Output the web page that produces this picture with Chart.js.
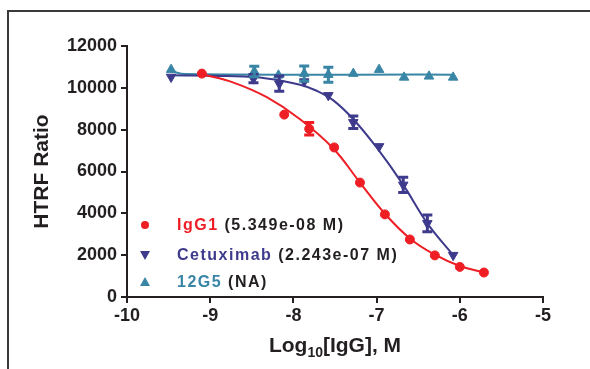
<!DOCTYPE html>
<html>
<head>
<meta charset="utf-8">
<script src="https://cdn.jsdelivr.net/npm/chart.js@4/dist/chart.umd.min.js"></script>
<style>
  html, body { margin: 0; padding: 0; background: #fff; }
  #frame { position: absolute; left: 7px; top: 10px; width: 620px; height: 400px;
           border-left: 2px solid #3a3a3a; border-top: 2px solid #3a3a3a; }
  canvas { position: absolute; left: 0; top: 0; }
</style>
</head>
<body>
<div id="frame"></div>
<canvas id="chart" width="590" height="369"></canvas>
<script>
// log10 concentration (M) and HTRF ratio
const igg1X = [-9.10, -8.11, -7.81, -7.51, -7.20, -6.90, -6.60, -6.30, -6.00, -5.71];
const igg1Y = [10680, 8720, 8040, 7150, 5470, 3950, 2750, 1990, 1440, 1170];
const igg1Err = [0, 0, 300, 0, 0, 0, 0, 0, 0, 0];

const cetuxX = [-9.47, -8.48, -8.17, -7.87, -7.58, -7.28, -6.97, -6.68, -6.39, -6.08];
const cetuxY = [10520, 10440, 10200, 10300, 9640, 8350, 7200, 5360, 3520, 2000];
const cetuxErr = [0, 200, 360, 0, 0, 300, 0, 360, 400, 0];

const g12X = [-9.47, -8.47, -8.18, -7.87, -7.58, -7.28, -6.97, -6.67, -6.37, -6.08];
const g12Y = [10870, 10780, 10600, 10680, 10630, 10680, 10870, 10500, 10550, 10500];
const g12Err = [0, 250, 0, 360, 360, 0, 0, 0, 0, 0];

// fitted curves
const igg1FitX = [-9.10, -8.72, -8.32, -7.92, -7.52, -7.20, -6.90, -6.60, -6.30, -6.00, -5.71];
const igg1FitY = [10650, 10250, 9550, 8500, 7100, 5470, 3980, 2800, 2020, 1480, 1170];
const cetuxFitX = [-9.47, -8.80, -8.32, -7.92, -7.72, -7.52, -7.28, -7.00, -6.68, -6.39, -6.08];
const cetuxFitY = [10600, 10560, 10450, 10150, 9860, 9400, 8500, 7150, 5360, 3520, 2000];
const g12FitX = [-9.47, -9.30, -6.08];
const g12FitY = [10800, 10660, 10630];

const seriesNames = ['IgG1', 'Cetuximab', '12G5'];
const seriesNotes = ['(5.349e-08 M)', '(2.243e-07 M)', '(NA)'];
const xTicks = [-10, -9, -8, -7, -6, -5];
const yTicks = [0, 2000, 4000, 6000, 8000, 10000, 12000];

const RED = 'rgb(238,30,36)';
const PURPLE = 'rgb(62,58,140)';
const TEAL = 'rgb(56,133,165)';
const INK = '#231f20';
const FONT = '"Liberation Sans", Arial, sans-serif';

const pts = (xs, ys) => xs.map((x, i) => ({ x: x, y: ys[i] }));

function markerSet(label, xs, ys, errs, color, style, rot, r) {
  return {
    type: 'scatter', label: label, data: pts(xs, ys), errs: errs,
    showLine: false, order: 0,
    pointStyle: style, rotation: rot, pointRadius: r,
    backgroundColor: color, borderColor: color, borderWidth: 1
  };
}
function fitSet(xs, ys, color) {
  return {
    type: 'line', data: pts(xs, ys), order: 1,
    borderColor: color, borderWidth: 2, pointRadius: 0,
    tension: 0.4, fill: false
  };
}

const errorBars = {
  id: 'errorBars',
  afterDatasetsDraw(chart) {
    const ctx = chart.ctx, xs = chart.scales.x, ys = chart.scales.y;
    chart.data.datasets.forEach(ds => {
      if (!ds.errs) return;
      ctx.save();
      ctx.strokeStyle = ds.borderColor;
      ctx.lineWidth = 3;
      ds.data.forEach((p, i) => {
        const e = ds.errs[i];
        if (!e) return;
        const px = xs.getPixelForValue(p.x);
        const y1 = ys.getPixelForValue(p.y + e), y2 = ys.getPixelForValue(p.y - e);
        ctx.beginPath();
        ctx.moveTo(px, y1); ctx.lineTo(px, y2);
        ctx.moveTo(px - 5, y1); ctx.lineTo(px + 5, y1);
        ctx.moveTo(px - 5, y2); ctx.lineTo(px + 5, y2);
        ctx.stroke();
      });
      ctx.restore();
    });
  }
};

const decorations = {
  id: 'decorations',
  afterDraw(chart) {
    const ctx = chart.ctx, area = chart.chartArea;
    ctx.save();
    ctx.fillStyle = INK;
    ctx.textBaseline = 'alphabetic';

    // y title
    ctx.save();
    ctx.translate(48, (area.top + area.bottom) / 2);
    ctx.rotate(-Math.PI / 2);
    ctx.font = 'bold 21px ' + FONT;
    ctx.textAlign = 'center';
    ctx.fillText('HTRF Ratio', 0, 0);
    ctx.restore();

    // x title with subscript
    const big = 'bold 21px ' + FONT, small = 'bold 14px ' + FONT;
    ctx.font = big;
    const w1 = ctx.measureText('Log').width, w3 = ctx.measureText('[IgG], M').width;
    ctx.font = small;
    const w2 = ctx.measureText('10').width;
    let x = (area.left + area.right) / 2 - (w1 + w2 + w3) / 2;
    const base = 352;
    ctx.textAlign = 'left';
    ctx.font = big; ctx.fillText('Log', x, base); x += w1;
    ctx.font = small; ctx.fillText('10', x, base + 5); x += w2;
    ctx.font = big; ctx.fillText('[IgG], M', x, base);

    // legend
    const colors = [RED, PURPLE, TEAL];
    const rows = [225, 255, 282];
    ctx.letterSpacing = '1.5px';
    ctx.font = 'bold 16px ' + FONT;
    ctx.textBaseline = 'middle';
    seriesNames.forEach((name, i) => {
      const cy = rows[i], cx = 145;
      ctx.fillStyle = colors[i];
      ctx.beginPath();
      if (i === 0) {
        ctx.arc(cx, cy, 4, 0, Math.PI * 2);
      } else if (i === 1) {
        ctx.moveTo(cx - 5, cy - 4); ctx.lineTo(cx + 5, cy - 4); ctx.lineTo(cx, cy + 5);
      } else {
        ctx.moveTo(cx - 5, cy + 4); ctx.lineTo(cx + 5, cy + 4); ctx.lineTo(cx, cy - 5);
      }
      ctx.closePath();
      ctx.fill();
      ctx.fillText(name, 177, cy + 1);
      const nw = ctx.measureText(name + ' ').width;
      ctx.fillStyle = INK;
      ctx.fillText(seriesNotes[i], 177 + nw, cy + 1);
    });
    ctx.restore();
  }
};

Chart.defaults.font.family = FONT;
Chart.defaults.color = INK;

new Chart(document.getElementById('chart'), {
  data: {
    datasets: [
      markerSet(seriesNames[0], igg1X, igg1Y, igg1Err, RED, 'circle', 0, 4.5),
      markerSet(seriesNames[1], cetuxX, cetuxY, cetuxErr, PURPLE, 'triangle', 180, 5.5),
      markerSet(seriesNames[2], g12X, g12Y, g12Err, TEAL, 'triangle', 0, 5.5),
      fitSet(igg1FitX, igg1FitY, RED),
      fitSet(cetuxFitX, cetuxFitY, PURPLE),
      fitSet(g12FitX, g12FitY, TEAL)
    ]
  },
  options: {
    responsive: false,
    animation: false,
    layout: { padding: { left: 67, right: 47, top: 46, bottom: 42 } },
    scales: {
      x: {
        type: 'linear', min: -10, max: -5,
        afterBuildTicks: s => { s.ticks = xTicks.map(v => ({ value: v })); },
        afterFit: s => { s.height = 30; },
        border: { display: true, color: INK, width: 2 },
        grid: { drawOnChartArea: false, drawTicks: true, tickLength: 6, color: INK, lineWidth: 2 },
        ticks: { font: { size: 18, weight: 'bold' }, color: INK, padding: 2, maxRotation: 0,
                 callback: v => String(v) }
      },
      y: {
        type: 'linear', min: 0, max: 12000,
        afterBuildTicks: s => { s.ticks = yTicks.map(v => ({ value: v })); },
        afterFit: s => { s.width = 60; },
        border: { display: true, color: INK, width: 2 },
        grid: { drawOnChartArea: false, drawTicks: true, tickLength: 6, color: INK, lineWidth: 2 },
        ticks: { font: { size: 18, weight: 'bold' }, color: INK, padding: 4,
                 callback: v => String(v) }
      }
    },
    plugins: {
      legend: { display: false },
      tooltip: { enabled: false }
    }
  },
  plugins: [errorBars, decorations]
});
</script>
</body>
</html>
